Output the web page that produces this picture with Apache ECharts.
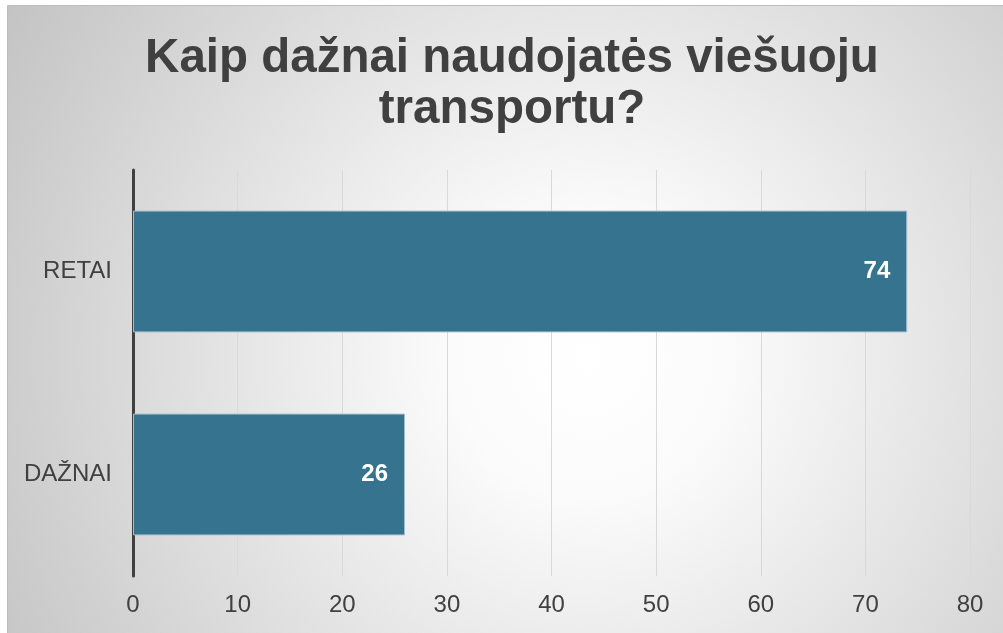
<!DOCTYPE html>
<html>
<head>
<meta charset="utf-8">
<script src="https://cdn.jsdelivr.net/npm/echarts@6/dist/echarts.min.js"></script>
<style>
html,body{margin:0;padding:0;background:#ffffff;}
#chart{width:1003px;height:633px;}
</style>
</head>
<body>
<div id="chart"></div>
<script>
const titleText = 'Kaip dažnai naudojatės viešuoju\ntransportu?';
const categories = ['DAŽNAI', 'RETAI'];
const values = [26, 74];
const axisMin = 0;
const axisMax = 80;
const axisStep = 10;

const chart = echarts.init(document.getElementById('chart'), null, {renderer: 'canvas'});
const font = '"Liberation Sans", Arial, sans-serif';
chart.setOption({
  backgroundColor: '#ffffff',
  animation: false,
  graphic: [{
    type: 'rect',
    z: -100,
    silent: true,
    shape: {x: 7.5, y: 5.5, width: 1000, height: 640},
    style: {
      fill: {
        type: 'radial', x: 0.58, y: 0.55, r: 1.08,
        colorStops: [
          {offset: 0, color: '#ffffff'},
          {offset: 0.2, color: '#fbfbfb'},
          {offset: 1, color: '#c2c2c2'}
        ]
      },
      stroke: '#bdbdbd',
      lineWidth: 1
    }
  }, {
    type: 'text',
    z: 10,
    silent: true,
    x: 512,
    y: 33,
    style: {
      text: titleText,
      align: 'center',
      verticalAlign: 'top',
      fontFamily: font,
      fontSize: 47.5,
      fontWeight: 'bold',
      fill: '#404040',
      lineHeight: 51
    }
  }],
  grid: {left: 133, right: 33, top: 170, bottom: 57, containLabel: false},
  xAxis: {
    type: 'value',
    min: axisMin,
    max: axisMax,
    interval: axisStep,
    axisLine: {show: false},
    axisTick: {show: false},
    splitLine: {show: true, lineStyle: {color: '#d9d9d9', width: 1}},
    axisLabel: {color: '#404040', fontFamily: font, fontSize: 24, margin: 17}
  },
  yAxis: {
    type: 'category',
    data: categories,
    axisLine: {show: true, lineStyle: {color: '#404040', width: 3}},
    axisTick: {show: false},
    axisLabel: {color: '#404040', fontFamily: font, fontSize: 24, margin: 21}
  },
  series: [{
    type: 'bar',
    data: values,
    barCategoryGap: '40%',
    itemStyle: {color: '#36738f', borderColor: '#9fbfcf', borderWidth: 1},
    label: {
      show: true,
      position: 'insideRight',
      distance: 17,
      color: '#ffffff',
      fontFamily: font,
      fontSize: 24,
      fontWeight: 'bold'
    }
  }]
});
</script>
</body>
</html>
